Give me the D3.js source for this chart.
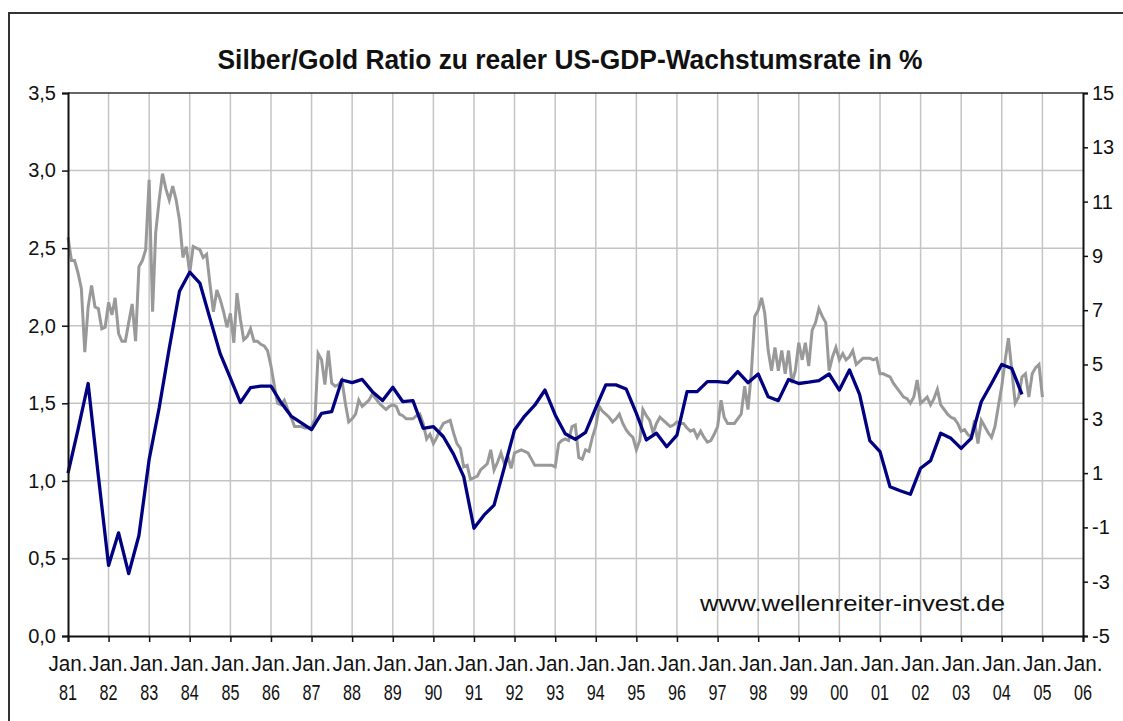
<!DOCTYPE html>
<html>
<head>
<meta charset="utf-8">
<script src="https://cdn.jsdelivr.net/npm/d3@7"></script>
<style>
  html, body { margin: 0; padding: 0; background: #fff; }
  svg { display: block; }
  text { font-family: "Liberation Sans", Arial, sans-serif; }
</style>
</head>
<body>
<div id="chart"></div>
<script>
(function () {
  'use strict';

  // Silber/Gold ratio, monthly, starting Jan 1981 (left axis)
  const ratioValues = [
    2.57, 2.42, 2.42, 2.34, 2.24, 1.83, 2.12, 2.26, 2.12, 2.11, 1.98, 1.99,
    2.15, 2.07, 2.18, 1.95, 1.90, 1.90, 2.02, 2.14, 1.90, 2.38, 2.42, 2.49,
    2.94, 2.09, 2.60, 2.81, 2.98, 2.88, 2.81, 2.90, 2.81, 2.68, 2.44, 2.51,
    2.34, 2.51, 2.50, 2.49, 2.44, 2.46, 2.27, 2.09, 2.23, 2.17, 2.09, 1.99,
    2.08, 1.89, 2.21, 2.04, 1.91, 1.93, 1.98, 1.90, 1.90, 1.88, 1.87, 1.84,
    1.74, 1.61, 1.50, 1.49, 1.52, 1.46, 1.41, 1.35, 1.35, 1.35, 1.34, 1.34,
    1.35, 1.40, 1.82, 1.78, 1.62, 1.84, 1.63, 1.61, 1.62, 1.65, 1.50, 1.38,
    1.40, 1.43, 1.52, 1.48, 1.50, 1.52, 1.56, 1.53, 1.50, 1.48, 1.46, 1.48,
    1.49, 1.48, 1.43, 1.42, 1.40, 1.40, 1.40, 1.42, 1.43, 1.37, 1.27, 1.30,
    1.24, 1.28, 1.33, 1.37, 1.38, 1.39, 1.31, 1.24, 1.21, 1.09, 1.10, 1.01,
    1.02, 1.03, 1.07, 1.09, 1.11, 1.20, 1.07, 1.12, 1.18, 1.11, 1.16, 1.08,
    1.18, 1.19, 1.20, 1.19, 1.18, 1.14, 1.10, 1.10, 1.10, 1.10, 1.10, 1.10,
    1.09, 1.24, 1.26, 1.27, 1.26, 1.35, 1.36, 1.15, 1.14, 1.20, 1.19, 1.28,
    1.35, 1.48, 1.45, 1.43, 1.41, 1.38, 1.40, 1.43, 1.37, 1.33, 1.30, 1.28,
    1.20, 1.26, 1.46, 1.42, 1.39, 1.31, 1.37, 1.41, 1.39, 1.37, 1.35, 1.36,
    1.38, 1.37, 1.37, 1.34, 1.32, 1.33, 1.28, 1.32, 1.28, 1.25, 1.26, 1.30,
    1.35, 1.52, 1.41, 1.37, 1.37, 1.37, 1.40, 1.43, 1.61, 1.46, 1.70, 2.06,
    2.10, 2.18, 2.08, 1.84, 1.71, 1.86, 1.71, 1.84, 1.69, 1.84, 1.63, 1.71,
    1.89, 1.78, 1.89, 1.74, 1.97, 2.02, 2.11, 2.06, 2.02, 1.71, 1.80, 1.86,
    1.78, 1.82, 1.78, 1.80, 1.84, 1.75, 1.77, 1.79, 1.79, 1.79, 1.78, 1.79,
    1.69, 1.69, 1.68, 1.67, 1.63, 1.60, 1.57, 1.54, 1.53, 1.50, 1.54, 1.65,
    1.50, 1.52, 1.54, 1.49, 1.53, 1.59, 1.49, 1.46, 1.43, 1.41, 1.40, 1.37,
    1.32, 1.33, 1.30, 1.28, 1.39, 1.24, 1.39, 1.35, 1.31, 1.28, 1.35, 1.48,
    1.61, 1.78, 1.92, 1.71, 1.50, 1.54, 1.67, 1.69, 1.54, 1.69, 1.73, 1.75,
    1.54
  ];

  // real US GDP growth in %, quarterly, starting Q1 1981 (right axis)
  const gdpValues = [
    1.0, 2.6, 4.3, 0.9, -2.4, -1.2, -2.7, -1.3, 1.5, 3.4, 5.6, 7.7,
    8.4, 8.0, 6.7, 5.4, 4.5, 3.6, 4.15, 4.2, 4.2, 3.6, 3.1, 2.85,
    2.6, 3.2, 3.26, 4.43, 4.33, 4.45, 4.0, 3.67, 4.16, 3.63, 3.67, 2.65,
    2.71, 2.34, 1.7, 0.87, -1.03, -0.55, -0.18, 1.2, 2.59, 3.1, 3.5, 4.06,
    3.14, 2.45, 2.24, 2.5, 3.4, 4.25, 4.25, 4.1, 3.2, 2.22, 2.47, 1.97,
    2.4, 4.0, 4.0, 4.37, 4.37, 4.33, 4.74, 4.33, 4.65, 3.81, 3.67, 4.45,
    4.3, 4.35, 4.41, 4.65, 4.06, 4.8, 3.9, 2.2, 1.79, 0.5, 0.35, 0.22,
    1.18, 1.46, 2.47, 2.28, 1.91, 2.28, 3.63, 4.3, 5.0, 4.85, 3.9
  ];

  const yearTicks = d3.range(1981, 2007);
  const leftTicks = [0, 0.5, 1, 1.5, 2, 2.5, 3, 3.5];
  const rightTicks = [-5, -3, -1, 1, 3, 5, 7, 9, 11, 13, 15];

  const title = 'Silber/Gold Ratio zu realer US-GDP-Wachstumsrate in %';
  const source = 'www.wellenreiter-invest.de';

  const W = 1123, H = 721;
  const left = 68, right = 1083, top = 93, bottom = 636;
  const start = new Date(1981, 0, 1);

  const svg = d3.select('#chart').append('svg')
    .attr('width', W).attr('height', H);

  svg.append('rect')
    .attr('x', 9).attr('y', 13)
    .attr('width', W + 20).attr('height', H + 20)
    .attr('fill', '#fff')
    .attr('stroke', '#333').attr('stroke-width', 2);

  const x = d3.scaleTime()
    .domain([start, new Date(2006, 0, 1)])
    .range([left, right]);
  const yL = d3.scaleLinear().domain([0, 3.5]).range([bottom, top]);
  const yR = d3.scaleLinear().domain([-5, 15]).range([bottom, top]);

  const yearDates = yearTicks.map(y => new Date(y, 0, 1));

  // grid
  svg.append('g').selectAll('line')
    .data(yearDates.slice(1, -1))
    .join('line')
    .attr('x1', d => x(d)).attr('x2', d => x(d))
    .attr('y1', top).attr('y2', bottom)
    .attr('stroke', '#c4c4c4').attr('stroke-width', 1.5);

  svg.append('g').selectAll('line')
    .data(leftTicks.slice(1, -1))
    .join('line')
    .attr('x1', left).attr('x2', right)
    .attr('y1', d => yL(d)).attr('y2', d => yL(d))
    .attr('stroke', '#c4c4c4').attr('stroke-width', 1.5);

  // top frame line
  svg.append('line')
    .attr('x1', left).attr('x2', right)
    .attr('y1', top).attr('y2', top)
    .attr('stroke', '#333').attr('stroke-width', 1.5);

  // series
  const ratioLine = d3.line()
    .x((d, i) => x(d3.timeMonth.offset(start, i)))
    .y(d => yL(d));

  const gdpLine = d3.line()
    .x((d, i) => x(d3.timeMonth.offset(start, i * 3)))
    .y(d => yR(d));

  svg.append('path')
    .datum(ratioValues)
    .attr('d', ratioLine)
    .attr('fill', 'none')
    .attr('stroke', '#999')
    .attr('stroke-width', 3);

  svg.append('path')
    .datum(gdpValues)
    .attr('d', gdpLine)
    .attr('fill', 'none')
    .attr('stroke', '#000080')
    .attr('stroke-width', 3.3)
    .attr('stroke-linejoin', 'round');

  // axes
  const axisL = svg.append('g')
    .attr('transform', `translate(${left},0)`)
    .call(d3.axisLeft(yL).tickValues(leftTicks).tickSize(6)
      .tickFormat(d => d3.format('.1f')(d).replace('.', ',')));

  const axisR = svg.append('g')
    .attr('transform', `translate(${right},0)`)
    .call(d3.axisRight(yR).tickValues(rightTicks).tickSize(5).tickFormat(d => String(d)));

  const axisB = svg.append('g')
    .attr('transform', `translate(0,${bottom})`)
    .call(d3.axisBottom(x).tickValues(yearDates).tickSize(6).tickFormat(''));

  [axisL, axisR, axisB].forEach(a => {
    a.select('.domain').attr('stroke', '#111').attr('stroke-width', 2);
    a.selectAll('.tick line').attr('stroke', '#111').attr('stroke-width', 1.5);
    a.selectAll('.tick text')
      .attr('font-family', '"Liberation Sans", Arial, sans-serif')
      .attr('font-size', 20).attr('fill', '#111');
  });
  axisL.selectAll('.tick text').attr('x', -12);
  axisR.selectAll('.tick text').attr('x', 9);

  // x labels: "Jan." over two-digit year
  const xl = svg.append('g')
    .attr('font-size', 22).attr('fill', '#111').attr('text-anchor', 'middle');
  xl.selectAll('text.m')
    .data(yearDates)
    .join('text')
    .attr('class', 'm')
    .attr('x', d => x(d)).attr('y', 671)
    .attr('textLength', 39).attr('lengthAdjust', 'spacingAndGlyphs')
    .text('Jan.');
  xl.selectAll('text.y')
    .data(yearDates)
    .join('text')
    .attr('class', 'y')
    .attr('x', d => x(d)).attr('y', 700)
    .attr('textLength', 18).attr('lengthAdjust', 'spacingAndGlyphs')
    .text(d => d3.timeFormat('%y')(d));

  svg.append('text')
    .attr('x', 570).attr('y', 69)
    .attr('text-anchor', 'middle')
    .attr('font-size', 27).attr('font-weight', 'bold').attr('fill', '#111')
    .attr('textLength', 705).attr('lengthAdjust', 'spacingAndGlyphs')
    .text(title);

  svg.append('text')
    .attr('x', 700).attr('y', 611)
    .attr('font-size', 22).attr('fill', '#111')
    .attr('textLength', 305).attr('lengthAdjust', 'spacingAndGlyphs')
    .text(source);
})();
</script>
</body>
</html>
